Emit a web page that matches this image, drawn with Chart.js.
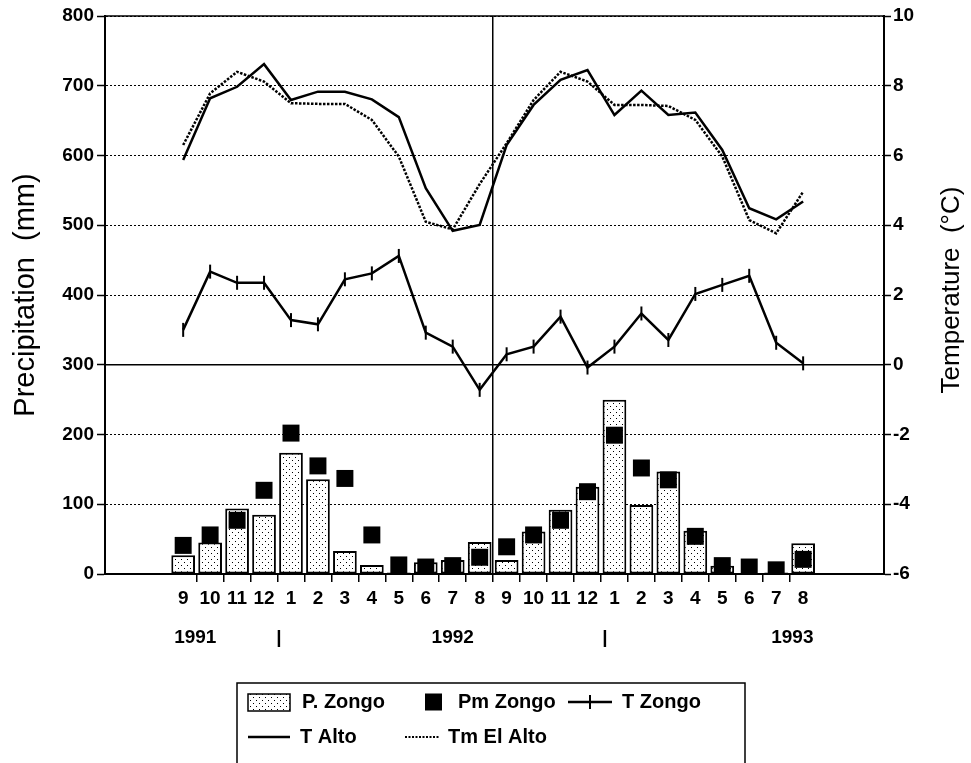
<!DOCTYPE html>
<html><head><meta charset="utf-8">
<script src="https://cdn.jsdelivr.net/npm/chart.js@4/dist/chart.umd.min.js"></script>
<style>html,body{margin:0;padding:0;background:#fff}canvas{display:block}</style>
</head><body>
<canvas id="c" width="971" height="763"></canvas>
<script>
// ---- data ----
const monthLabels = ['9','10','11','12','1','2','3','4','5','6','7','8','9','10','11','12','1','2','3','4','5','6','7','8'];
const yearLabels = ['1991','|','1992','|','1993'];
const yearTickPositions = [0.45, 3.55, 10, 15.65, 22.6];
const pZongo  = [27, 45, 94, 85, 174, 136, 33, 13, 2, 17, 20, 46, 20, 61, 92, 125, 250, 99, 147, 62, 12, 1, 2, 44];
const pmZongo = [41, 56, 77, 120, 202, 155, 137, 56, 13, 10, 12, 24, 39, 56, 77, 118, 199, 152, 135, 54, 12, 10, 6, 21];
const tZongo  = [1.0, 2.67, 2.35, 2.35, 1.28, 1.16, 2.45, 2.62, 3.12, 0.92, 0.52, -0.72, 0.30, 0.52, 1.38, -0.08, 0.52, 1.47, 0.71, 2.03, 2.29, 2.55, 0.63, 0.04];
const tAlto   = [5.87, 7.64, 7.97, 8.62, 7.59, 7.83, 7.83, 7.61, 7.10, 5.06, 3.84, 4.01, 6.30, 7.45, 8.17, 8.45, 7.16, 7.86, 7.16, 7.23, 6.16, 4.49, 4.17, 4.68];
const tmElAlto= [6.30, 7.78, 8.40, 8.12, 7.50, 7.48, 7.48, 7.02, 5.97, 4.10, 3.88, 5.18, 6.35, 7.59, 8.40, 8.12, 7.45, 7.45, 7.42, 7.02, 5.97, 4.15, 3.77, 4.96];
const seriesNames = ['P. Zongo', 'Pm Zongo', 'T Zongo', 'T Alto', 'Tm El Alto'];
const yLeftTitle = 'Precipitation  (mm)';
const yRightTitle = 'Temperature  (\u00B0C)';

// ---- styling ----
const FONT = "'Liberation Sans', Arial, Helvetica, sans-serif";
const BLACK = '#000';
const CLEAR = 'rgba(0,0,0,0)';
const canvas = document.getElementById('c');
const ctx = canvas.getContext('2d');

function makeDots() {
  const c = document.createElement('canvas');
  c.width = 6; c.height = 6;
  const g = c.getContext('2d');
  g.fillStyle = '#fff'; g.fillRect(0, 0, 6, 6);
  g.fillStyle = '#000'; g.fillRect(1, 1, 1, 1); g.fillRect(4, 4, 1, 1);
  return ctx.createPattern(c, 'repeat');
}
const dots = makeDots();
const idx = monthLabels.map((_, i) => i);
const pts = arr => arr.map((v, i) => ({ x: idx[i], y: v }));
const tickFont = { family: FONT, size: 19, weight: 'bold' };

const decor = {
  id: 'decor',
  beforeDatasetsDraw(chart) {
    const { ctx, chartArea: a, scales: { y, y1 } } = chart;
    ctx.save();
    ctx.strokeStyle = BLACK; ctx.lineWidth = 1.5; ctx.setLineDash([]);
    const yz = y1.getPixelForValue(0);
    const yt = y.getPixelForValue(y.max);
    ctx.beginPath();
    ctx.moveTo(a.left, yz); ctx.lineTo(a.right, yz);
    ctx.moveTo(a.left, yt); ctx.lineTo(a.right, yt);
    ctx.stroke();
    ctx.restore();
  },
  afterDraw(chart) {
    const { ctx, chartArea: a } = chart;
    ctx.save();
    // right axis title, reading bottom-to-top
    ctx.fillStyle = BLACK;
    ctx.font = '26px ' + FONT;
    ctx.textAlign = 'center'; ctx.textBaseline = 'middle';
    ctx.translate(952, (a.top + a.bottom) / 2 - 5);
    ctx.rotate(-Math.PI / 2);
    ctx.fillText(yRightTitle, 0, 0);
    ctx.restore();

    // legend box
    ctx.save();
    ctx.strokeStyle = BLACK; ctx.lineWidth = 1.5;
    ctx.beginPath();
    ctx.moveTo(237, 770); ctx.lineTo(237, 683); ctx.lineTo(745, 683); ctx.lineTo(745, 770);
    ctx.stroke();
    ctx.font = 'bold 20px ' + FONT;
    ctx.fillStyle = BLACK; ctx.textAlign = 'left'; ctx.textBaseline = 'middle';
    const r1 = 702, r2 = 737;
    // P. Zongo swatch
    ctx.fillStyle = dots; ctx.fillRect(248, r1 - 8, 42, 17);
    ctx.strokeRect(248, r1 - 8, 42, 17);
    ctx.fillStyle = BLACK;
    ctx.fillText(seriesNames[0], 302, r1);
    // Pm Zongo square
    ctx.fillRect(425, r1 - 8.5, 17, 17);
    ctx.fillText(seriesNames[1], 458, r1);
    // T Zongo line with tick
    ctx.lineWidth = 2.5;
    ctx.beginPath(); ctx.moveTo(568, r1); ctx.lineTo(612, r1); ctx.stroke();
    ctx.lineWidth = 2;
    ctx.beginPath(); ctx.moveTo(590, r1 - 7); ctx.lineTo(590, r1 + 7); ctx.stroke();
    ctx.fillText(seriesNames[2], 622, r1);
    // T Alto
    ctx.lineWidth = 2.5;
    ctx.beginPath(); ctx.moveTo(248, r2); ctx.lineTo(290, r2); ctx.stroke();
    ctx.fillText(seriesNames[3], 300, r2);
    // Tm El Alto
    ctx.lineWidth = 2; ctx.setLineDash([2, 1.5]);
    ctx.beginPath(); ctx.moveTo(405, r2); ctx.lineTo(440, r2); ctx.stroke();
    ctx.setLineDash([]);
    ctx.fillText(seriesNames[4], 448, r2);
    ctx.restore();
  }
};

new Chart(ctx, {
  type: 'line',
  data: {
    datasets: [
      { type: 'bar', label: seriesNames[0], data: pts(pZongo), xAxisID: 'x', yAxisID: 'y',
        backgroundColor: dots, borderColor: BLACK, borderWidth: 2, borderSkipped: false,
        barPercentage: 0.88, categoryPercentage: 1, order: 5 },
      { type: 'line', label: seriesNames[1], data: pts(pmZongo), xAxisID: 'x', yAxisID: 'y',
        showLine: false, pointStyle: 'rect', pointRadius: 12, pointBackgroundColor: BLACK,
        pointBorderColor: BLACK, pointBorderWidth: 0, order: 1 },
      { type: 'line', label: seriesNames[2], data: pts(tZongo), xAxisID: 'x', yAxisID: 'y1',
        borderColor: BLACK, borderWidth: 2.5, tension: 0, pointStyle: 'line', pointRotation: 90,
        pointRadius: 7, pointBorderWidth: 2, pointBorderColor: BLACK, order: 2 },
      { type: 'line', label: seriesNames[3], data: pts(tAlto), xAxisID: 'x', yAxisID: 'y1',
        borderColor: BLACK, borderWidth: 2.5, tension: 0, pointRadius: 0, order: 3 },
      { type: 'line', label: seriesNames[4], data: pts(tmElAlto), xAxisID: 'x', yAxisID: 'y1',
        borderColor: BLACK, borderWidth: 2.5, borderDash: [2.5, 1.5], tension: 0, pointRadius: 0, order: 4 }
    ]
  },
  options: {
    responsive: false, animation: false, devicePixelRatio: 1,
    layout: { padding: { top: 16, bottom: 109, left: 0, right: 0 } },
    plugins: { legend: { display: false }, tooltip: { enabled: false } },
    scales: {
      x: {
        type: 'linear', position: 'bottom', weight: 0, min: -2.9, max: 26, offset: false,
        afterBuildTicks: a => { a.ticks = idx.map(v => ({ value: v })); },
        afterFit: a => { a.height = 40; },
        ticks: { autoSkip: false, maxRotation: 0, minRotation: 0, padding: 5, color: BLACK, font: tickFont,
                 callback: v => monthLabels[v] },
        grid: { offset: true, drawOnChartArea: true, drawTicks: true, tickLength: 8, lineWidth: 1.5, tickWidth: 1.5,
                color: c => (c.index === 12 ? BLACK : CLEAR),
                tickColor: c => ((c.index === undefined || c.index === 0) ? CLEAR : BLACK) },
        border: { display: true, color: BLACK, width: 2 }
      },
      xYear: {
        type: 'linear', position: 'bottom', weight: 1, min: -2.9, max: 26, offset: false,
        afterBuildTicks: a => { a.ticks = yearTickPositions.map(v => ({ value: v })); },
        afterFit: a => { a.height = 40; },
        ticks: { autoSkip: false, maxRotation: 0, minRotation: 0, padding: 12, color: BLACK, font: tickFont,
                 callback: (v, i) => yearLabels[i] },
        grid: { display: false, drawTicks: false },
        border: { display: false }
      },
      y: {
        type: 'linear', position: 'left', min: 0, max: 800,
        afterFit: a => { a.width = 105; },
        ticks: { stepSize: 100, padding: 3, color: BLACK, font: tickFont },
        grid: { drawOnChartArea: true, drawTicks: true, tickLength: 8, tickWidth: 1.5, tickColor: BLACK, lineWidth: 1,
                color: c => ((c.tick && c.tick.value === 0) ? CLEAR : BLACK) },
        border: { display: true, color: BLACK, width: 2, dash: [2, 2] },
        title: { display: true, text: yLeftTitle, color: BLACK, font: { family: FONT, size: 29 }, padding: { top: 9, bottom: 0 } }
      },
      y1: {
        type: 'linear', position: 'right', min: -6, max: 10,
        afterFit: a => { a.width = 87; },
        ticks: { stepSize: 2, padding: 2, color: BLACK, font: tickFont },
        grid: { drawOnChartArea: false, drawTicks: true, tickLength: 7, tickWidth: 1.5, tickColor: BLACK },
        border: { display: true, color: BLACK, width: 2 }
      }
    }
  },
  plugins: [decor]
});
</script>
</body></html>
